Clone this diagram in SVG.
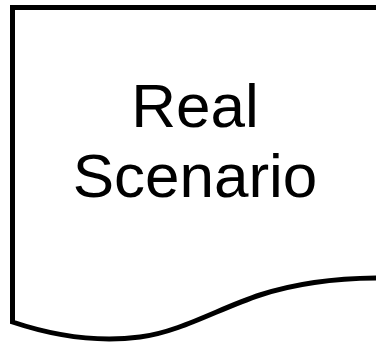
<svg xmlns="http://www.w3.org/2000/svg" width="376" height="344" viewBox="0 0 376 344">
  <style>
    .shape { fill: #ffffff; stroke: #000000; stroke-width: 5; stroke-linejoin: miter; }
    .label { font-family: "Liberation Sans", Arial, sans-serif; font-size: 62px; fill: #000000; text-anchor: middle; }
  </style>
  <rect x="0" y="0" width="376" height="344" fill="#ffffff"/>
  <g id="node-real-scenario">
    <path class="shape" d="M380,7.5 L12.5,7.5 L12.5,322 C 60,338 100,342 140,337 C 180,332 220,308 260,295 C 300,282 340,278 380,278"/>
    <text class="label" x="195" y="127.3">Real</text>
    <text class="label" x="195" y="196.7">Scenario</text>
  </g>
  <g id="connectors"></g>
</svg>
